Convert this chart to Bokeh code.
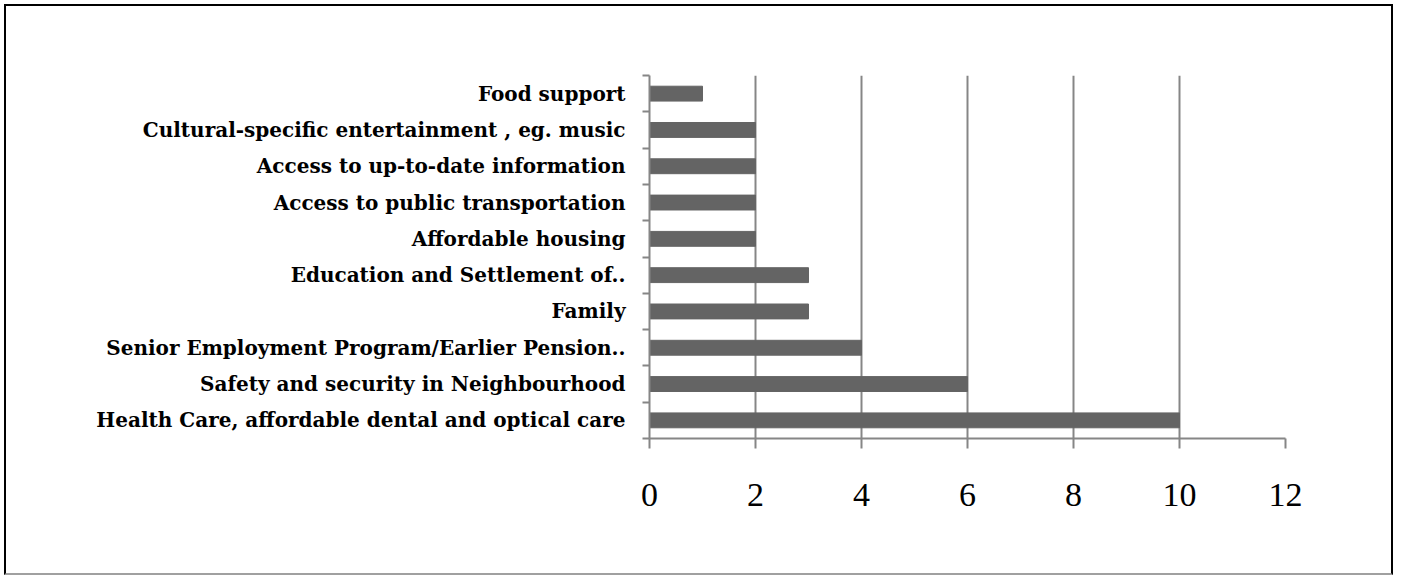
from bokeh.plotting import figure
from bokeh.models import FixedTicker, Range1d
from bokeh.embed import file_html
from bokeh.resources import INLINE

categories = [
    "Health Care, affordable dental and optical care",
    "Safety and security in Neighbourhood",
    "Senior Employment Program/Earlier Pension..",
    "Family",
    "Education and Settlement of..",
    "Affordable housing",
    "Access to public transportation",
    "Access to up-to-date information",
    "Cultural-specific entertainment , eg. music",
    "Food support",
]
values = [10, 6, 4, 3, 3, 2, 2, 2, 2, 1]
x_ticks = [0, 2, 4, 6, 8, 10, 12]

centers = [i + 0.5 for i in range(len(categories))]
bounds = list(range(len(categories) + 1))

p = figure(width=1389, height=571, output_backend="svg", toolbar_location=None,
           x_range=Range1d(0, 12), y_range=Range1d(0, len(categories)),
           min_border_left=643, min_border_right=110, min_border_top=69, min_border_bottom=139)
p.styles = {"border": "2px solid black", "border-bottom-color": "#a0a0a0",
            "margin-left": "4px", "margin-top": "4px"}
p.outline_line_color = None
p.background_fill_color = "white"
p.border_fill_color = "white"

p.hbar(y=centers, right=values, left=0, height=0.41, color="#646464")

grey = "#868686"
p.xgrid.ticker = FixedTicker(ticks=x_ticks)
p.xgrid.grid_line_color = grey
p.xgrid.grid_line_width = 2
p.ygrid.grid_line_color = None

xa = p.xaxis[0]
xa.ticker = FixedTicker(ticks=x_ticks)
xa.axis_line_color = grey
xa.axis_line_width = 2
xa.major_tick_line_color = grey
xa.major_tick_line_width = 2
xa.major_tick_in = 0
xa.major_tick_out = 10
xa.minor_tick_line_color = None
xa.major_label_text_font = "Liberation Serif"
xa.major_label_text_font_size = "34px"
xa.major_label_text_color = "black"
xa.major_label_standoff = 35

ya = p.yaxis[0]
ya.ticker = FixedTicker(ticks=centers, minor_ticks=bounds)
ya.major_label_overrides = {c: cat for c, cat in zip(centers, categories)}
ya.axis_line_color = grey
ya.axis_line_width = 2
ya.major_tick_line_color = None
ya.major_tick_in = 0
ya.major_tick_out = 0
ya.minor_tick_line_color = grey
ya.minor_tick_line_width = 2
ya.minor_tick_in = 0
ya.minor_tick_out = 7
ya.major_label_text_font = "DejaVu Serif"
ya.major_label_text_font_style = "bold"
ya.major_label_text_font_size = "20px"
ya.major_label_text_color = "black"
ya.major_label_standoff = 17

open("out.html", "w").write(file_html(p, INLINE))
